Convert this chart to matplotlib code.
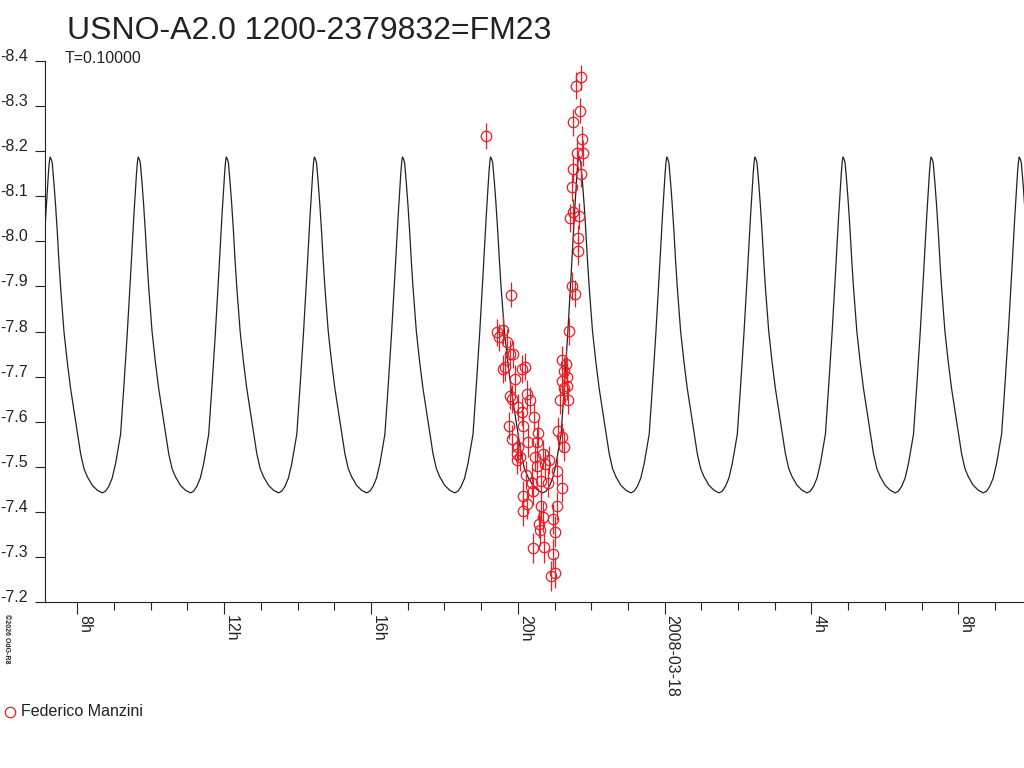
import matplotlib
matplotlib.use("Agg")
import matplotlib.pyplot as plt
import numpy as np
from matplotlib.ticker import FixedLocator, FixedFormatter, MultipleLocator

plt.rcParams['font.family'] = ['Liberation Sans', 'DejaVu Sans']

# ---------------- data ----------------
title = "USNO-A2.0 1200-2379832=FM23"
period_label = "T=0.10000"
observer = "Federico Manzini"
credit = "\u00a92026 OdG-R8"

# observation times: hours since 2008-03-17 00:00
obs_hours = [19.142, 21.722, 21.594, 21.703, 21.496, 21.757, 21.621, 21.784, 21.512, 21.730,
             21.485, 21.512, 21.430, 21.659, 21.648, 21.632, 21.468, 21.566, 19.815,
             19.425, 19.605, 19.496, 19.698, 19.788, 19.651, 19.589, 19.877, 20.106, 20.196,
             19.924, 19.788, 19.834, 20.243, 20.333, 20.014, 20.106, 20.441, 19.760, 19.834,
             20.134, 20.558, 20.286, 20.515, 20.014, 19.970, 20.060, 19.970, 20.695, 20.469,
             20.858, 20.741, 20.223, 20.515, 21.060, 20.379, 20.632, 20.831, 21.196, 20.150,
             20.422, 20.243, 20.624, 21.076, 20.150, 20.695, 20.586, 20.605, 20.967, 21.013,
             20.422, 20.722, 20.951, 20.896, 21.013,
             21.403, 21.196, 21.313, 21.259, 21.349, 21.212, 21.332, 21.259, 21.376, 21.150,
             21.103, 21.196, 21.259]
obs_mag = [-8.233, -8.364, -8.345, -8.290, -8.264, -8.227, -8.197, -8.196, -8.161, -8.150,
           -8.120, -8.065, -8.052, -8.056, -8.007, -7.978, -7.900, -7.884, -7.882,
           -7.798, -7.804, -7.787, -7.776, -7.750, -7.721, -7.717, -7.750, -7.717, -7.722,
           -7.695, -7.658, -7.650, -7.661, -7.647, -7.632, -7.621, -7.611, -7.591, -7.562,
           -7.591, -7.574, -7.554, -7.554, -7.543, -7.528, -7.521, -7.515, -7.528, -7.521,
           -7.515, -7.506, -7.482, -7.502, -7.491, -7.465, -7.469, -7.465, -7.453, -7.436,
           -7.447, -7.417, -7.413, -7.413, -7.401, -7.388, -7.374, -7.359, -7.384, -7.356,
           -7.319, -7.321, -7.307, -7.258, -7.265,
           -7.801, -7.736, -7.728, -7.713, -7.700, -7.691, -7.680, -7.675, -7.647, -7.647,
           -7.580, -7.565, -7.543]
obs_err = [0.029, 0.028, 0.030, 0.028, 0.030, 0.029, 0.030, 0.028, 0.030, 0.029,
           0.030, 0.030, 0.031, 0.029, 0.030, 0.030, 0.031, 0.030, 0.028,
           0.030, 0.031, 0.030, 0.030, 0.031, 0.030, 0.031, 0.030, 0.031, 0.030,
           0.031, 0.030, 0.031, 0.032, 0.031, 0.030, 0.031, 0.032, 0.030, 0.031,
           0.032, 0.031, 0.032, 0.031, 0.031, 0.032, 0.031, 0.032, 0.032, 0.031,
           0.032, 0.033, 0.031, 0.032, 0.032, 0.033, 0.032, 0.033, 0.032, 0.033,
           0.032, 0.033, 0.033, 0.032, 0.033, 0.033, 0.032, 0.034, 0.033, 0.034,
           0.033, 0.034, 0.033, 0.034, 0.034,
           0.030, 0.031, 0.030, 0.031, 0.030, 0.031, 0.032, 0.031, 0.030, 0.031,
           0.031, 0.032, 0.031]

# model light curve, one cycle (phase from maximum)
curve_phase = [0.000, 0.012, 0.025, 0.044, 0.063, 0.082, 0.101, 0.120, 0.139, 0.158, 0.196,
               0.233, 0.290, 0.347, 0.385, 0.423, 0.479, 0.536, 0.593, 0.631, 0.668,
               0.706, 0.744, 0.801, 0.839, 0.877, 0.915, 0.952, 0.982, 0.992, 1.000]
curve_mag = [-8.187, -8.183, -8.174, -8.130, -8.080, -8.022, -7.956, -7.898, -7.848, -7.800,
             -7.732, -7.674, -7.601, -7.529, -7.496, -7.478, -7.459, -7.448, -7.442, -7.446,
             -7.457, -7.475, -7.507, -7.572, -7.681, -7.797, -7.927, -8.058, -8.152, -8.176,
             -8.187]
period_hours = 2.4
epoch_hours = 7.257

x_ticks = [8, 12, 16, 20, 24, 28, 32]
x_tick_labels = ["8h", "12h", "16h", "20h", "2008-03-18", "4h", "8h"]
y_ticks = [-8.4, -8.3, -8.2, -8.1, -8.0, -7.9, -7.8, -7.7, -7.6, -7.5, -7.4, -7.3, -7.2]
y_tick_labels = ["-8.4", "-8.3", "-8.2", "-8.1", "-8.0", "-7.9", "-7.8", "-7.7",
                 "-7.6", "-7.5", "-7.4", "-7.3", "-7.2"]
x_range = (7.120, 33.790)

# ---------------- figure ----------------
W, H = 1024, 768
fig = plt.figure(figsize=(W / 100, H / 100), dpi=100)
ax = fig.add_axes([45 / W, (H - 602) / H, (W - 45) / W, (602 - 61) / H])

ink = '#222222'

# tiled model curve
cp = np.array(curve_phase)
cm = np.array(curve_mag)
ct, cmag = [], []
for k in range(-1, 13):
    ct.extend(list(epoch_hours + (k + cp[:-1]) * period_hours))
    cmag.extend(list(cm[:-1]))
ax.plot(ct, cmag, color=ink, lw=0.9, zorder=2)

ax.errorbar(obs_hours, obs_mag, yerr=obs_err, fmt='o', mfc='none', mec='#ee1c24',
            ecolor='#ee1c24', ms=7.5, mew=0.9, elinewidth=0.9, capsize=0, zorder=3)

ax.set_xlim(*x_range)
ax.set_ylim(-7.2, -8.4)

for s in ['top', 'right']:
    ax.spines[s].set_visible(False)
for s in ['left', 'bottom']:
    ax.spines[s].set_color(ink)
    ax.spines[s].set_linewidth(0.8)

ax.xaxis.set_major_locator(FixedLocator(x_ticks))
ax.xaxis.set_major_formatter(FixedFormatter(x_tick_labels))
ax.xaxis.set_minor_locator(MultipleLocator(1))
ax.yaxis.set_major_locator(FixedLocator(y_ticks))
ax.yaxis.set_major_formatter(FixedFormatter(y_tick_labels))

ax.tick_params(axis='x', which='major', direction='out', length=8.6, width=0.8,
               color=ink, labelsize=11.5, labelcolor=ink, pad=0.5)
ax.tick_params(axis='x', which='minor', direction='out', length=5.8, width=0.8, color=ink)
ax.tick_params(axis='y', which='major', direction='out', length=7, width=0.8,
               color=ink, labelsize=11.5, labelcolor=ink, pad=5.5)

for lab in ax.get_xticklabels():
    lab.set_rotation(270)
    lab.set_ha('left')
    lab.set_va('top')
for lab in ax.get_yticklabels():
    lab.set_va('baseline')

# texts
fig.text(67 / W, 1 - 39 / H, title, fontsize=23, color=ink, ha='left', va='baseline')
fig.text(65 / W, 1 - 63 / H, period_label, fontsize=11.5, color=ink, ha='left', va='baseline')
fig.text(3 / W, 1 - 614 / H, credit, fontsize=5, color=ink, rotation=270,
         ha='left', va='top', fontweight='bold')

# legend
fig.lines.append(plt.Line2D([10 / W], [1 - 712 / H], marker='o', ms=7.5, mfc='none',
                            mec='#ee1c24', mew=0.9, transform=fig.transFigure))
fig.text(21 / W, 1 - 712 / H, observer, fontsize=11.5, color=ink, ha='left', va='center')

fig.savefig("out.png", dpi=100)
